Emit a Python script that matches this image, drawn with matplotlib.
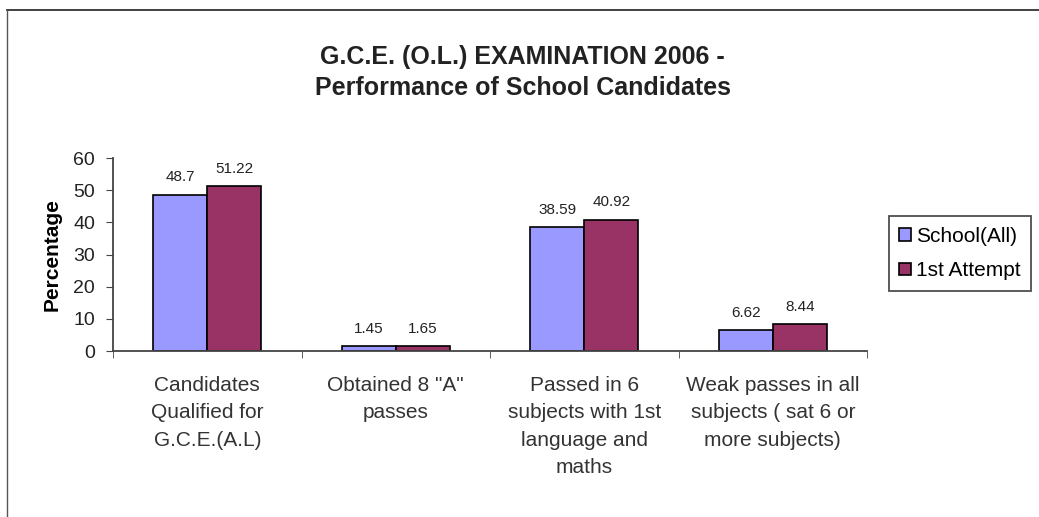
import numpy as np
import matplotlib
matplotlib.use("Agg")
from matplotlib import pyplot as plt
from matplotlib.lines import Line2D

categories = ['Candidates\nQualified for\nG.C.E.(A.L)',
              'Obtained 8 "A"\npasses',
              'Passed in 6\nsubjects with 1st\nlanguage and\nmaths',
              'Weak passes in all\nsubjects ( sat 6 or\nmore subjects)']
school_all = [48.7, 1.45, 38.59, 6.62]
first_attempt = [51.22, 1.65, 40.92, 8.44]
school_lbl = ['48.7', '1.45', '38.59', '6.62']
first_lbl = ['51.22', '1.65', '40.92', '8.44']
series_names = ['School(All)', '1st Attempt']

plt.rcParams['font.family'] = ['Liberation Sans', 'DejaVu Sans']

fig = plt.figure(figsize=(10.39, 5.17), dpi=100)
ax = fig.add_axes([0.1088, 0.321, 0.7257, 0.373])

x = np.arange(len(categories))
w = 0.286
b1 = ax.bar(x - w / 2, school_all, w, color='#9999FF', edgecolor='black', linewidth=1.2, label=series_names[0])
b2 = ax.bar(x + w / 2, first_attempt, w, color='#993366', edgecolor='black', linewidth=1.2, label=series_names[1])

for bars, lbls in ((b1, school_lbl), (b2, first_lbl)):
	for bar, t in zip(bars, lbls):
		ax.annotate(t, (bar.get_x() + bar.get_width() / 2, bar.get_height()),
					xytext=(0, 9.5), textcoords='offset points', ha='center', va='baseline',
					fontsize=11, color='#222222')

ax.set_xlim(-0.5, len(categories) - 0.5)
ax.set_ylim(0, 60)
ax.set_yticks(range(0, 61, 10))
ax.set_xticks(x)
ax.set_xticklabels(categories, fontsize=15, color='#333333', linespacing=1.55)
ax.set_xticks(np.arange(-0.5, len(categories), 1), minor=True)
ax.tick_params(axis='x', which='major', length=0, pad=18)
ax.tick_params(axis='x', which='minor', length=5, direction='out', color='#444444')
ax.tick_params(axis='y', length=5, direction='out', labelsize=14, color='#444444', labelcolor='#222222', pad=8)

for s in ('top', 'right'):
	ax.spines[s].set_visible(False)
for s in ('left', 'bottom'):
	ax.spines[s].set_color('#444444')
	ax.spines[s].set_linewidth(1.3)

ax.set_ylabel('Percentage', fontsize=15, fontweight='bold')
ax.yaxis.set_label_coords(-0.068, 0.5)

fig.text(0.503, 0.860, 'G.C.E. (O.L.) EXAMINATION 2006 -\nPerformance of School Candidates',
		 ha='center', va='center', fontsize=18, fontweight='bold', color='#222222', linespacing=1.35)

leg = fig.legend(handles=[b1, b2], loc='center', bbox_to_anchor=(0.924, 0.5097),
				 fontsize=15, frameon=True, fancybox=False, handlelength=0.55, handleheight=0.55,
				 handletextpad=0.25, borderpad=0.5, labelspacing=0.75, borderaxespad=0)
leg.get_frame().set_edgecolor('#222222')
leg.get_frame().set_linewidth(1.3)

# outer chart border (top and left edges)
fig.add_artist(Line2D([7 / 1039, 1], [1 - 10 / 517, 1 - 10 / 517], color='#333333', linewidth=1.3, transform=fig.transFigure))
fig.add_artist(Line2D([7 / 1039, 7 / 1039], [0, 1 - 10 / 517], color='#555555', linewidth=1.0, transform=fig.transFigure))

fig.savefig('out.png', dpi=100)
